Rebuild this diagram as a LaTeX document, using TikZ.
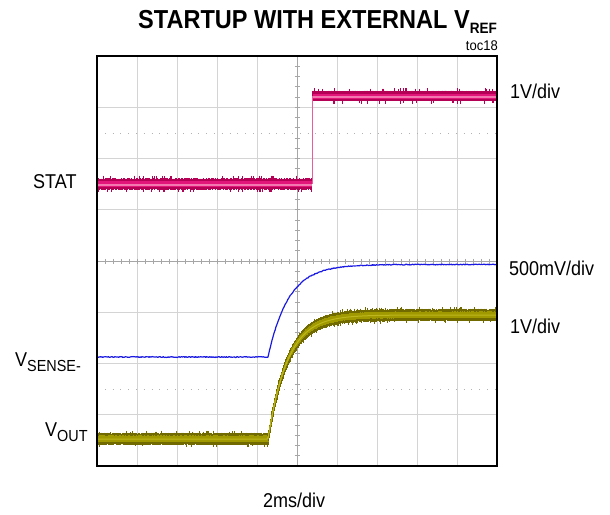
\documentclass[tikz,border=0pt]{standalone}
\usepackage{fontspec}
\setmainfont{Liberation Sans}
\definecolor{statdark}{RGB}{180,0,85}
\definecolor{statmid}{RGB}{226,22,122}
\definecolor{statlight}{RGB}{242,120,175}
\definecolor{outdark}{RGB}{112,106,0}
\definecolor{outmid}{RGB}{160,154,0}
\definecolor{outlight}{RGB}{190,184,30}
\definecolor{sensecol}{RGB}{25,25,225}
\definecolor{gridcol}{RGB}{212,212,212}
\newcommand{\lowtext}[3]{\raisebox{-#1pt}{\fontsize{#2}{#2}\selectfont #3}}
\newcommand{\narrowtext}[2]{\scalebox{#1}[1]{#2}}

\begin{document}
\begin{tikzpicture}[x=1pt,y=-1pt,
  declare function={
    sense(\t)=264.5+92.5*exp(-max(\t-268,0)/20.5);
    vout(\t)=315+124*exp(-max(\t-268,0)/19.5);
  },
  gridline/.style={gridcol, line width=0.7pt},
  axisline/.style={gray!70, line width=0.7pt},
  dotline/.style={gray!60, line width=0.8pt, dash pattern=on 0.8pt off 7pt},
  lbl/.style={inner sep=0pt, anchor=base west, font=\fontsize{20}{22}\selectfont},
  frame/.style={black, line width=2.3pt}]

\useasboundingbox (0,0) rectangle (610,514);
\pgfmathsetseed{1234}

% graticule: 10 x 8 divisions
\foreach \i in {1,...,9} \draw[gridline] ({97+40*\i},56) -- ({97+40*\i},466);
\foreach \j in {1,...,7} \draw[gridline] (97,{56+51.25*\j}) -- (497,{56+51.25*\j});
\draw[axisline] (297,56) -- (297,466);
\draw[axisline] (97,261.25) -- (497,261.25);
\foreach \k in {1,...,39} \draw[axisline] (297-2.5,{56+10.25*\k}) -- (297+2.5,{56+10.25*\k});
\foreach \k in {1,...,49} \draw[axisline] ({97+8*\k},261.25-2.5) -- ({97+8*\k},261.25+2.5);
\draw[dotline] (97,133) -- (497,133);
\draw[dotline] (97,389.5) -- (497,389.5);

% STAT trace (low level, edge, high level)
\foreach \x in {98,98.6,...,311.5}{
  \pgfmathsetmacro\ya{184-5.0-1.0*rnd-2.5*(rnd>0.93)}
  \pgfmathsetmacro\yb{184+5.0+1.0*rnd+2.5*(rnd>0.93)}
  \draw[statdark, line width=0.6pt] (\x,\ya) -- (\x,\yb);
}
\foreach \x in {312.5,313.1,...,496}{
  \pgfmathsetmacro\ya{96-4.5-1.0*rnd-2.5*(rnd>0.93)}
  \pgfmathsetmacro\yb{96+4.5+1.0*rnd+2.5*(rnd>0.93)}
  \draw[statdark, line width=0.6pt] (\x,\ya) -- (\x,\yb);
}
\draw[statmid, line width=6pt] (98,184) -- (312,184);
\draw[statmid, line width=5pt] (312.5,96) -- (496,96);
\draw[statlight, line width=1.4pt] (98,185) -- (312,185);
\draw[statlight, line width=1.2pt] (312.5,97) -- (496,97);
\draw[statlight!70!statmid, line width=0.8pt] (312.2,96) -- (312.2,184);

% VSENSE- trace
\draw[sensecol, line width=1.2pt, line join=round]
  plot[domain=98:496, samples=500] (\x,{sense(\x)+0.45*rand});

% VOUT trace
\foreach \x in {98,98.5,...,496}{
  \pgfmathsetmacro\yc{vout(\x)}
  \pgfmathsetmacro\ya{\yc-5.2-1.2*rnd-2*(rnd>0.94)}
  \pgfmathsetmacro\yb{\yc+5.2+1.2*rnd+2*(rnd>0.94)}
  \draw[outdark, line width=0.6pt] (\x,\ya) -- (\x,\yb);
  \pgfmathsetmacro\ya{\yc-3.2-0.6*rnd}
  \pgfmathsetmacro\yb{\yc+2.8+0.6*rnd}
  \draw[outmid, line width=0.6pt] (\x,\ya) -- (\x,\yb);
}
\draw[outlight, line width=1pt] plot[domain=98:496, samples=300] (\x,{vout(\x)});

% screen frame
\draw[frame] (97,56) rectangle (497,466);

% labels
\node[inner sep=0pt, anchor=base west, font=\bfseries\fontsize{26}{28}\selectfont] (title) at (138,28)
  {\narrowtext{0.905}{STARTUP WITH EXTERNAL V\lowtext{5}{15}{REF}}};
\node[inner sep=0pt, anchor=base east, font=\fontsize{14}{16}\selectfont] (toc) at (498,50)
  {\narrowtext{0.93}{toc18}};
\node[lbl] (stat) at (33,188) {\narrowtext{0.9}{STAT}};
\node[lbl] (sense) at (15,366) {\narrowtext{0.9}{V\lowtext{5}{16}{SENSE-}}};
\node[lbl] (vout) at (45,436) {\narrowtext{0.9}{V\lowtext{5}{16}{OUT}}};
\node[lbl] (statdiv) at (510,98) {\narrowtext{0.9}{1V/div}};
\node[lbl] (sensediv) at (509,275) {\narrowtext{0.9}{500mV/div}};
\node[lbl] (voutdiv) at (510,333) {\narrowtext{0.9}{1V/div}};
\node[lbl] (timediv) at (263,507) {\narrowtext{0.9}{2ms/div}};
\end{tikzpicture}
\end{document}
